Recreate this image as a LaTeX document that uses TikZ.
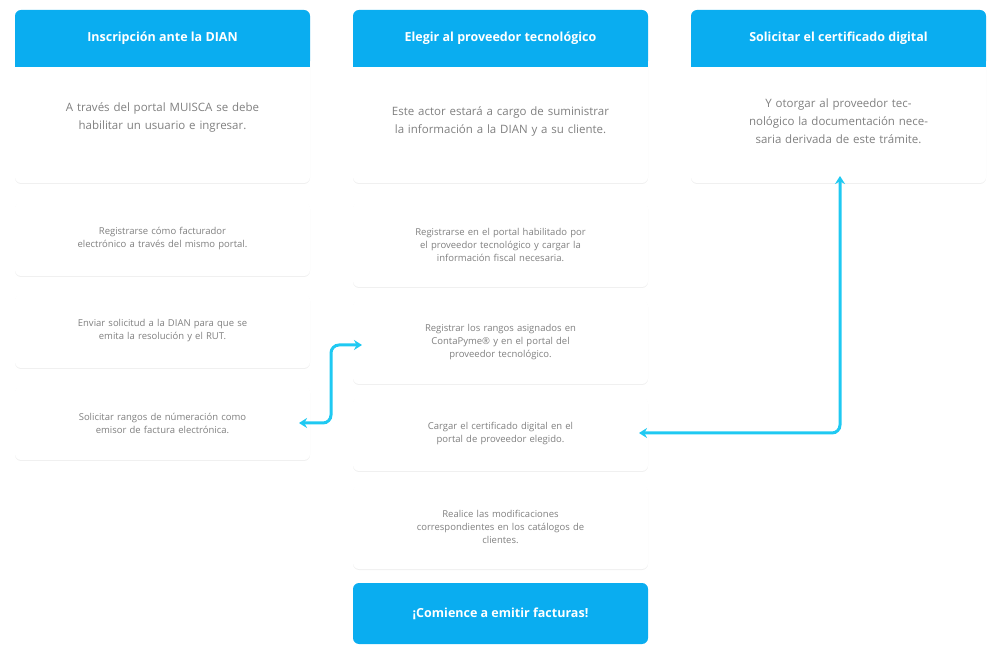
\documentclass[tikz,border=0pt]{standalone}
\usepackage{fontspec}
\setmainfont{Open Sans}
\usetikzlibrary{shadows,arrows.meta}
\definecolor{hb}{HTML}{0AADF0}
\definecolor{ar}{HTML}{1FC9F2}
\definecolor{tx}{HTML}{808080}
\begin{document}
\begin{tikzpicture}[x=1pt,y=-1pt,
  card/.style={fill=white,rounded corners=6pt,drop shadow={opacity=0.12,shadow xshift=0pt,shadow yshift=-1pt},inner sep=0},
  hdr/.style={fill=hb,text=white,font=\bfseries\fontsize{12.5}{15}\selectfont},
  bt/.style={text=tx,align=center,font=\fontsize{11.5}{18}\selectfont,text width=250pt},
  st/.style={text=tx,align=center,font=\fontsize{9.5}{13}\selectfont,text width=265pt},
  conn/.style={ar,line width=3pt,rounded corners=8pt,-{Stealth[length=8pt,width=10pt]}}]
\useasboundingbox (0,0) rectangle (1005,652);
% column cards
\foreach \x/\n in {15/a,353/b,691/c}{
  \path[card] (\x,10) rectangle ++(295,173);
  \fill[hb,rounded corners=6pt] (\x,10) rectangle ++(295,57);
  \fill[hb] (\x,50) rectangle ++(295,17);
}
\node[hdr] (ha) at (162.5,38) {Inscripción ante la DIAN};
\node[hdr] (hb) at (500.5,38) {Elegir al proveedor tecnológico};
\node[hdr] (hc) at (838.5,38) {Solicitar el certificado digital};
\node[bt] (ba) at (162.5,117) {A través del portal MUISCA se debe habilitar un usuario e ingresar.};
\node[bt] (bb) at (500.5,121) {Este actor estará a cargo de suministrar la información a la DIAN y a su cliente.};
\node[bt] (bc) at (838.5,121) {Y otorgar al proveedor tecnológico la documentación necesaria derivada de este trámite.};
\coordinate (cbot) at (840,176);
% small cards
\newcommand{\scard}[5]{\path[card] (#1,#2) rectangle (#1+295,#3);
  \node[st] (#4) at (#1+147.5,{(#2+#3)/2}) {#5};}
\scard{15}{202}{276}{s1}{Registrarse cómo facturador\\electrónico a través del mismo portal.}
\scard{15}{294}{368}{s2}{Enviar solicitud a la DIAN para que se\\emita la resolución y el RUT.}
\scard{15}{386}{460}{s3}{Solicitar rangos de númeración como\\emisor de factura electrónica.}
\scard{353}{202}{287}{t1}{Registrarse en el portal habilitado por\\el proveedor tecnológico y cargar la\\información fiscal necesaria.}
\scard{353}{300}{384}{t2}{Registrar los rangos asignados en\\ContaPyme® y en el portal del\\proveedor tecnológico.}
\scard{353}{397}{471}{t3}{Cargar el certificado digital en el\\portal de proveedor elegido.}
\scard{353}{485}{569}{t4}{Realice las modificaciones\\correspondientes en los catálogos de\\clientes.}
\fill[hb,rounded corners=6pt] (353,583) rectangle (648,644);
\node[hdr] (fin) at (500.5,614) {¡Comience a emitir facturas!};
% connectors
\coordinate (p1) at (299,423);
\coordinate (p2) at (362,345);
\draw[conn,{Stealth[length=8pt,width=10pt]}-{Stealth[length=8pt,width=10pt]}] (p1) -- (331,423) -- (331,345) -- (p2);
\coordinate (q1) at (639,433);
\draw[conn,{Stealth[length=8pt,width=10pt]}-{Stealth[length=8pt,width=10pt]}] (q1) -- (840,433) -- (cbot);
\end{tikzpicture}
\end{document}
